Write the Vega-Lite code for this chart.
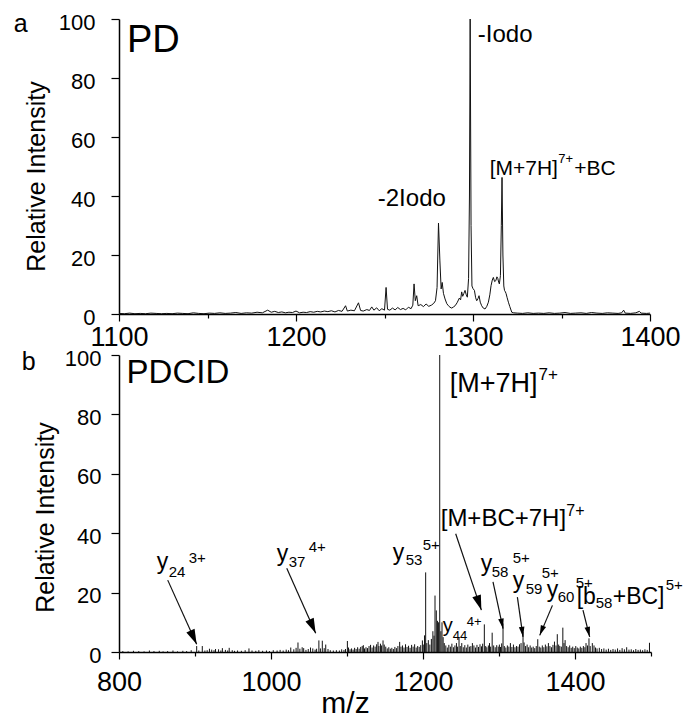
{
  "$schema": "https://vega.github.io/schema/vega-lite/v6.json",
  "padding": {"left": 13, "top": 11, "right": 5, "bottom": 0},
  "spacing": -3,
  "config": {
    "view": {"stroke": null},
    "axis": {"domainColor": "#000", "domainWidth": 1.5, "tickColor": "#000", "tickWidth": 1.2, "labelColor": "#000", "titleColor": "#000", "grid": false, "labelFont": "Liberation Sans", "titleFont": "Liberation Sans", "titleFontWeight": "normal", "labelFlush": false, "labelOverlap": false},
    "text": {"font": "Liberation Sans", "color": "#000"}
  },
  "datasets": {
    "pd": [
      {"mz":1100,"i":0.2},{"mz":1103,"i":0.1},{"mz":1106,"i":0.3},{"mz":1109,"i":0.1},{"mz":1112,"i":0.2},{"mz":1115,"i":0.1},{"mz":1118,"i":0.3},{"mz":1121,"i":0.2},{"mz":1124,"i":0.1},{"mz":1127,"i":0.2},{"mz":1130,"i":0.1},{"mz":1133,"i":0.3},{"mz":1136,"i":0.2},{"mz":1139,"i":0.1},{"mz":1142,"i":0.4},{"mz":1145,"i":0.2},{"mz":1148,"i":0.1},{"mz":1151,"i":0.3},{"mz":1154,"i":0.2},{"mz":1157,"i":0.4},{"mz":1160,"i":0.2},{"mz":1163,"i":0.3},{"mz":1166,"i":0.5},{"mz":1169,"i":0.2},{"mz":1172,"i":0.4},{"mz":1175,"i":0.3},{"mz":1178,"i":0.6},{"mz":1181,"i":0.4},{"mz":1184,"i":1.3},{"mz":1186,"i":0.6},{"mz":1188,"i":0.9},{"mz":1190,"i":0.5},{"mz":1192,"i":0.7},{"mz":1194,"i":0.4},{"mz":1196,"i":0.6},{"mz":1198,"i":0.5},{"mz":1200,"i":1.0},{"mz":1202,"i":0.4},{"mz":1204,"i":0.6},{"mz":1206,"i":0.5},{"mz":1208,"i":0.8},{"mz":1210,"i":0.6},{"mz":1212,"i":0.9},{"mz":1214,"i":0.7},{"mz":1216,"i":1.0},{"mz":1218,"i":0.8},{"mz":1220,"i":1.1},{"mz":1222,"i":0.7},{"mz":1224,"i":1.2},{"mz":1226,"i":0.9},{"mz":1228,"i":2.8},{"mz":1229,"i":1.0},{"mz":1231,"i":1.3},{"mz":1233,"i":1.1},{"mz":1235.3,"i":3.8},{"mz":1236.5,"i":1.2},{"mz":1238,"i":1.0},{"mz":1240,"i":1.5},{"mz":1241.5,"i":1.2},{"mz":1242.8,"i":2.4},{"mz":1244,"i":1.3},{"mz":1245.6,"i":2.1},{"mz":1247,"i":1.1},{"mz":1248.5,"i":1.8},{"mz":1250,"i":1.3},{"mz":1250.9,"i":9.0},{"mz":1251.7,"i":1.6},{"mz":1253,"i":1.3},{"mz":1254.5,"i":2.0},{"mz":1256,"i":1.4},{"mz":1257.5,"i":2.2},{"mz":1259,"i":1.5},{"mz":1260.5,"i":1.9},{"mz":1262,"i":1.4},{"mz":1263.5,"i":2.3},{"mz":1265,"i":1.8},{"mz":1266,"i":3.0},{"mz":1266.7,"i":10.2},{"mz":1267.4,"i":4.5},{"mz":1268.2,"i":6.2},{"mz":1269,"i":2.8},{"mz":1270.5,"i":3.2},{"mz":1272,"i":2.5},{"mz":1273.5,"i":3.4},{"mz":1275,"i":2.6},{"mz":1276.5,"i":3.0},{"mz":1277.8,"i":3.6},{"mz":1278.8,"i":4.5},{"mz":1279.7,"i":9.0},{"mz":1280.5,"i":30.8},{"mz":1281.3,"i":18.0},{"mz":1282,"i":8.5},{"mz":1282.6,"i":10.7},{"mz":1283.3,"i":7.0},{"mz":1284.2,"i":5.1},{"mz":1285.2,"i":3.5},{"mz":1286.1,"i":2.8},{"mz":1287,"i":2.3},{"mz":1288,"i":2.0},{"mz":1289,"i":2.4},{"mz":1289.9,"i":2.8},{"mz":1291,"i":3.8},{"mz":1292.3,"i":5.4},{"mz":1293,"i":4.8},{"mz":1293.6,"i":7.5},{"mz":1294.2,"i":6.0},{"mz":1294.8,"i":6.9},{"mz":1295.5,"i":8.0},{"mz":1296.2,"i":6.5},{"mz":1296.8,"i":5.7},{"mz":1297.5,"i":12},{"mz":1298,"i":40},{"mz":1298.4,"i":100},{"mz":1298.9,"i":30},{"mz":1299.4,"i":9.5},{"mz":1300,"i":8.6},{"mz":1300.8,"i":8.0},{"mz":1301.5,"i":5.5},{"mz":1302.1,"i":4.5},{"mz":1302.8,"i":5.2},{"mz":1303.4,"i":6.2},{"mz":1304.1,"i":4.0},{"mz":1304.9,"i":2.8},{"mz":1305.8,"i":2.0},{"mz":1306.8,"i":1.7},{"mz":1307.8,"i":2.6},{"mz":1308.7,"i":4.0},{"mz":1309.5,"i":6.5},{"mz":1310.2,"i":9.6},{"mz":1310.9,"i":11.5},{"mz":1311.5,"i":12.4},{"mz":1312.2,"i":11.0},{"mz":1312.9,"i":11.3},{"mz":1313.5,"i":12.6},{"mz":1314,"i":12.1},{"mz":1314.5,"i":10.8},{"mz":1314.9,"i":10.2},{"mz":1315.5,"i":13},{"mz":1316,"i":30},{"mz":1316.4,"i":46.3},{"mz":1316.9,"i":20},{"mz":1317.4,"i":9.5},{"mz":1317.8,"i":8.0},{"mz":1318.3,"i":7.5},{"mz":1318.7,"i":6.9},{"mz":1319.3,"i":5.5},{"mz":1320,"i":4.0},{"mz":1320.8,"i":2.5},{"mz":1321.9,"i":0.6},{"mz":1323,"i":0.4},{"mz":1325,"i":0.3},{"mz":1328,"i":0.2},{"mz":1331,"i":0.4},{"mz":1334,"i":0.2},{"mz":1337,"i":0.3},{"mz":1340,"i":0.2},{"mz":1343,"i":0.4},{"mz":1346,"i":0.2},{"mz":1349,"i":0.3},{"mz":1352,"i":0.5},{"mz":1355,"i":0.2},{"mz":1358,"i":0.3},{"mz":1361,"i":0.4},{"mz":1364,"i":0.2},{"mz":1367,"i":0.5},{"mz":1370,"i":0.3},{"mz":1373,"i":0.2},{"mz":1376,"i":0.4},{"mz":1379,"i":0.3},{"mz":1382,"i":0.2},{"mz":1384,"i":0.4},{"mz":1385.1,"i":1.3},{"mz":1386,"i":0.3},{"mz":1389,"i":0.2},{"mz":1392,"i":0.4},{"mz":1394,"i":0.9},{"mz":1395,"i":0.3},{"mz":1398,"i":0.2},{"mz":1400,"i":0.3}
    ],
    "pdLabels": [
      {"t":"a","x":1040.5,"y":95.6,"role":"panel"},
      {"t":"PD","x":1104.5,"y":88.7,"role":"title"},
      {"t":"-Iodo","x":1302.7,"y":92.3,"role":"label"},
      {"t":"-2Iodo","x":1246.2,"y":36.6,"role":"label"},
      {"t":"[M+7H]","x":1309.4,"y":47.2,"role":"lab2"},
      {"t":"7+","x":1348.2,"y":51.2,"role":"lab2sup"},
      {"t":"+BC","x":1357.2,"y":47.2,"role":"lab2"}
    ],
    "cid": [
      {"mz":805,"i":0.3},{"mz":812,"i":0.2},{"mz":819,"i":0.4},{"mz":826,"i":0.3},{"mz":833,"i":0.2},{"mz":840,"i":0.5},{"mz":846,"i":0.3},{"mz":853,"i":0.4},{"mz":858,"i":0.2},{"mz":864,"i":0.3},{"mz":871,"i":0.5},{"mz":877,"i":0.2},{"mz":884,"i":0.4},{"mz":889,"i":0.3},{"mz":895,"i":0.6},{"mz":902.2,"i":2.0},{"mz":905,"i":0.5},{"mz":909.6,"i":2.0},{"mz":913,"i":0.5},{"mz":916,"i":0.6},{"mz":919,"i":1.1},{"mz":922,"i":0.8},{"mz":925,"i":0.6},{"mz":927,"i":1.0},{"mz":931,"i":0.9},{"mz":934,"i":0.5},{"mz":936,"i":1.3},{"mz":940,"i":0.7},{"mz":943,"i":0.5},{"mz":945,"i":1.4},{"mz":949,"i":0.6},{"mz":952,"i":0.4},{"mz":956,"i":0.5},{"mz":961,"i":0.4},{"mz":966,"i":0.6},{"mz":971,"i":1.2},{"mz":975,"i":0.5},{"mz":980,"i":0.4},{"mz":984,"i":0.6},{"mz":989,"i":0.4},{"mz":994,"i":0.5},{"mz":998,"i":0.3},{"mz":1003,"i":0.6},{"mz":1008,"i":0.5},{"mz":1012,"i":0.7},{"mz":1016,"i":0.5},{"mz":1020,"i":0.8},{"mz":1023,"i":0.6},{"mz":1026,"i":1.5},{"mz":1030,"i":0.9},{"mz":1033,"i":1.4},{"mz":1035.5,"i":3.2},{"mz":1038,"i":1.1},{"mz":1041,"i":1.6},{"mz":1043,"i":1.3},{"mz":1046,"i":0.7},{"mz":1049,"i":1.0},{"mz":1052,"i":1.5},{"mz":1055,"i":1.2},{"mz":1058,"i":0.8},{"mz":1060,"i":1.1},{"mz":1063,"i":3.9},{"mz":1065,"i":1.2},{"mz":1067.5,"i":3.8},{"mz":1070,"i":1.3},{"mz":1072,"i":2.5},{"mz":1075,"i":1.0},{"mz":1078,"i":0.6},{"mz":1082,"i":0.5},{"mz":1086,"i":0.6},{"mz":1090,"i":0.5},{"mz":1093,"i":0.9},{"mz":1096,"i":0.7},{"mz":1098,"i":1.0},{"mz":1100.5,"i":3.7},{"mz":1102,"i":1.5},{"mz":1104,"i":0.9},{"mz":1106,"i":1.2},{"mz":1108,"i":0.8},{"mz":1110,"i":1.4},{"mz":1112,"i":1.0},{"mz":1114,"i":1.6},{"mz":1116,"i":1.1},{"mz":1118,"i":1.7},{"mz":1120,"i":2.0},{"mz":1121.5,"i":2.3},{"mz":1123,"i":1.2},{"mz":1125,"i":1.6},{"mz":1127,"i":1.3},{"mz":1129,"i":2.0},{"mz":1131,"i":2.4},{"mz":1133,"i":1.5},{"mz":1135,"i":2.2},{"mz":1137,"i":1.8},{"mz":1139,"i":2.6},{"mz":1140.8,"i":3.4},{"mz":1142,"i":2.0},{"mz":1144,"i":2.8},{"mz":1145.5,"i":2.2},{"mz":1147.4,"i":3.9},{"mz":1149,"i":2.5},{"mz":1151,"i":1.8},{"mz":1153,"i":1.2},{"mz":1155,"i":1.6},{"mz":1157,"i":1.1},{"mz":1159,"i":1.4},{"mz":1161,"i":1.0},{"mz":1163,"i":1.7},{"mz":1165,"i":1.3},{"mz":1167,"i":2.0},{"mz":1169.3,"i":3.4},{"mz":1171,"i":1.8},{"mz":1173,"i":2.2},{"mz":1175,"i":1.5},{"mz":1177,"i":2.6},{"mz":1179,"i":1.7},{"mz":1181,"i":2.1},{"mz":1183,"i":1.4},{"mz":1185,"i":2.4},{"mz":1187,"i":1.8},{"mz":1189,"i":2.6},{"mz":1191,"i":1.5},{"mz":1193,"i":2.0},{"mz":1195,"i":1.7},{"mz":1197,"i":2.3},{"mz":1199.2,"i":3.9},{"mz":1201,"i":2.5},{"mz":1202,"i":5.6},{"mz":1203.5,"i":26.8},{"mz":1205,"i":3.0},{"mz":1207,"i":4.0},{"mz":1209,"i":2.5},{"mz":1211,"i":4.4},{"mz":1213,"i":7.0},{"mz":1214.5,"i":5.5},{"mz":1215.8,"i":19.0},{"mz":1217.5,"i":14.0},{"mz":1219,"i":10.5},{"mz":1220.5,"i":10.0},{"mz":1222,"i":100},{"mz":1223.5,"i":7.0},{"mz":1225,"i":10.0},{"mz":1226.5,"i":5.0},{"mz":1228,"i":3.0},{"mz":1230,"i":2.2},{"mz":1232,"i":1.5},{"mz":1234,"i":2.4},{"mz":1236,"i":1.8},{"mz":1238,"i":2.8},{"mz":1240,"i":1.6},{"mz":1242,"i":2.2},{"mz":1244,"i":3.0},{"mz":1245.5,"i":1.8},{"mz":1247.4,"i":5.0},{"mz":1249,"i":2.0},{"mz":1251,"i":3.0},{"mz":1253,"i":1.6},{"mz":1255,"i":2.3},{"mz":1257,"i":1.5},{"mz":1259,"i":2.5},{"mz":1261,"i":1.8},{"mz":1263,"i":2.0},{"mz":1265,"i":3.0},{"mz":1267,"i":2.2},{"mz":1269,"i":1.5},{"mz":1271,"i":2.4},{"mz":1273,"i":1.7},{"mz":1275,"i":2.6},{"mz":1277,"i":1.9},{"mz":1278.5,"i":2.8},{"mz":1280.7,"i":9.3},{"mz":1282.5,"i":2.0},{"mz":1284,"i":1.6},{"mz":1286,"i":2.2},{"mz":1287.5,"i":3.0},{"mz":1289,"i":1.8},{"mz":1291,"i":6.5},{"mz":1293,"i":2.2},{"mz":1295,"i":1.6},{"mz":1297,"i":2.3},{"mz":1299,"i":1.8},{"mz":1300.5,"i":2.5},{"mz":1302,"i":1.7},{"mz":1303.5,"i":2.9},{"mz":1305.3,"i":9.6},{"mz":1307,"i":2.0},{"mz":1309,"i":1.5},{"mz":1311,"i":2.2},{"mz":1313,"i":1.8},{"mz":1315,"i":3.0},{"mz":1317,"i":1.7},{"mz":1319,"i":2.5},{"mz":1321,"i":1.6},{"mz":1323,"i":2.0},{"mz":1325,"i":1.8},{"mz":1327,"i":2.6},{"mz":1329,"i":3.0},{"mz":1331.6,"i":6.8},{"mz":1333,"i":3.2},{"mz":1335,"i":2.0},{"mz":1337,"i":2.5},{"mz":1339,"i":1.6},{"mz":1341,"i":2.2},{"mz":1343,"i":1.5},{"mz":1345,"i":1.8},{"mz":1347,"i":1.3},{"mz":1349,"i":2.0},{"mz":1351,"i":4.3},{"mz":1353,"i":1.8},{"mz":1355,"i":1.5},{"mz":1357,"i":2.2},{"mz":1359,"i":1.6},{"mz":1361,"i":2.5},{"mz":1363,"i":1.9},{"mz":1365,"i":3.0},{"mz":1367,"i":2.0},{"mz":1369,"i":1.6},{"mz":1371,"i":2.4},{"mz":1373,"i":3.5},{"mz":1375,"i":2.2},{"mz":1376.7,"i":6.0},{"mz":1378.5,"i":2.5},{"mz":1380,"i":2.0},{"mz":1382,"i":1.8},{"mz":1384,"i":8.2},{"mz":1385.5,"i":3.0},{"mz":1387,"i":4.0},{"mz":1389,"i":2.0},{"mz":1391,"i":1.6},{"mz":1393,"i":2.2},{"mz":1395,"i":1.4},{"mz":1397,"i":1.8},{"mz":1399,"i":1.3},{"mz":1401,"i":2.0},{"mz":1403,"i":1.5},{"mz":1405,"i":1.2},{"mz":1407,"i":1.8},{"mz":1409,"i":1.4},{"mz":1411,"i":2.0},{"mz":1413,"i":1.6},{"mz":1414.5,"i":3.0},{"mz":1416.5,"i":2.2},{"mz":1418.4,"i":4.6},{"mz":1420,"i":2.0},{"mz":1422.8,"i":3.0},{"mz":1425,"i":2.2},{"mz":1427,"i":1.5},{"mz":1429,"i":1.2},{"mz":1432,"i":1.4},{"mz":1435,"i":1.0},{"mz":1438,"i":1.2},{"mz":1441,"i":0.8},{"mz":1444,"i":1.1},{"mz":1447,"i":0.7},{"mz":1450,"i":1.0},{"mz":1453,"i":0.8},{"mz":1456,"i":1.2},{"mz":1459,"i":0.7},{"mz":1462,"i":1.3},{"mz":1465,"i":0.9},{"mz":1468,"i":1.6},{"mz":1471,"i":0.8},{"mz":1474,"i":0.9},{"mz":1477,"i":0.6},{"mz":1480,"i":1.0},{"mz":1483,"i":0.7},{"mz":1486,"i":0.8},{"mz":1489,"i":0.6},{"mz":1492,"i":0.9},{"mz":1495,"i":0.7},{"mz":1498,"i":3.1}
    ],
    "cidLabels": [
      {"t":"b","x":672,"y":95.0,"role":"panel"},
      {"t":"PDCID","x":810,"y":90.6,"role":"title2"},
      {"t":"[M+7H]","x":1235.1,"y":87.6,"role":"big"},
      {"t":"7+","x":1352.0,"y":91.6,"role":"bigsup"},
      {"t":"[M+BC+7H]","x":1223.3,"y":42.4,"role":"mid"},
      {"t":"7+","x":1388.5,"y":45.8,"role":"midsup"},
      {"t":"y","x":849.6,"y":27.9,"role":"ion"},
      {"t":"24","x":865.4,"y":25.2,"role":"ionsub"},
      {"t":"3+","x":891.7,"y":29.9,"role":"ionsup"},
      {"t":"y","x":1007.5,"y":30.6,"role":"ion"},
      {"t":"37","x":1023.3,"y":28.6,"role":"ionsub"},
      {"t":"4+","x":1049.6,"y":33.6,"role":"ionsup"},
      {"t":"y","x":1160.1,"y":30.9,"role":"ion"},
      {"t":"53","x":1177.2,"y":29.2,"role":"ionsub"},
      {"t":"5+","x":1199.6,"y":34.3,"role":"ionsup"},
      {"t":"y","x":1275.9,"y":27.2,"role":"ion"},
      {"t":"58","x":1290.4,"y":25.2,"role":"ionsub"},
      {"t":"5+","x":1318.0,"y":29.9,"role":"ionsup"},
      {"t":"y","x":1318.0,"y":21.5,"role":"ion"},
      {"t":"59","x":1335.1,"y":19.5,"role":"ionsub"},
      {"t":"5+","x":1356.2,"y":24.9,"role":"ionsup"},
      {"t":"y","x":1362.8,"y":18.4,"role":"ion"},
      {"t":"60","x":1377.2,"y":16.8,"role":"ionsub"},
      {"t":"5+","x":1400.9,"y":21.5,"role":"ionsup"},
      {"t":"[b","x":1402.2,"y":16.1,"role":"ion"},
      {"t":"58","x":1427.2,"y":14.7,"role":"ionsub"},
      {"t":"+BC]","x":1449.6,"y":16.1,"role":"ion"},
      {"t":"5+","x":1519.3,"y":20.8,"role":"ionsup"},
      {"t":"y","x":1225.9,"y":6.6,"role":"small"},
      {"t":"44","x":1239.1,"y":4.0,"role":"smallsub"},
      {"t":"4+","x":1257.5,"y":8.7,"role":"smallsup"}
    ],
    "arrows": [
      {"ion":"y24","tx":864.1,"ty":24.2,"hx":902.2,"hy":2.6},
      {"ion":"y37","tx":1020.7,"ty":28.2,"hx":1058.8,"hy":6.3},
      {"ion":"M+BC","tx":1243.0,"ty":39.8,"hx":1276.8,"hy":14.1},
      {"ion":"y58","tx":1292.1,"ty":23.6,"hx":1305.3,"hy":7.9},
      {"ion":"y59","tx":1324.2,"ty":18.5,"hx":1331.6,"hy":5.1},
      {"ion":"y60","tx":1370.3,"ty":15.7,"hx":1353.6,"hy":5.6},
      {"ion":"b58+BC","tx":1410.5,"ty":14.1,"hx":1419.3,"hy":5.1}
    ]
  },
  "vconcat": [
    {
      "width": 531,
      "height": 295,
      "layer": [
        {
          "data": {"name": "pd"},
          "mark": {"type": "line", "color": "#111", "strokeWidth": 1, "clip": true},
          "encoding": {
            "x": {"field": "mz", "type": "quantitative", "scale": {"domain": [1100, 1400], "nice": false, "zero": false},
              "axis": {"title": null, "values": [1100,1150,1200,1250,1300,1350,1400], "format": "d", "labelExpr": "datum.value % 100 === 0 ? datum.label : ''", "tickSize": {"condition": {"test": "datum.value % 100 === 0", "value": 7}, "value": 4}, "labelFontSize": 27, "labelPadding": 3}},
            "y": {"field": "i", "type": "quantitative", "scale": {"domain": [0, 100], "nice": false},
              "axis": {"title": "Relative Intensity", "titleFontSize": 25, "titleX": -75, "titleY": 157, "titleBaseline": "alphabetic", "values": [0,10,20,30,40,50,60,70,80,90,100], "labelExpr": "datum.value % 20 === 0 ? datum.label : ''", "tickSize": {"condition": {"test": "datum.value % 20 === 0", "value": 8}, "value": 5}, "labelFontSize": 22, "labelPadding": 16, "labelOffset": 3}}
          }
        },
        {
          "data": {"name": "pdLabels"},
          "mark": {"type": "text", "align": "left", "baseline": "alphabetic"},
          "encoding": {
            "x": {"field": "x", "type": "quantitative"},
            "y": {"field": "y", "type": "quantitative"},
            "text": {"field": "t"},
            "size": {"field": "role", "type": "nominal", "legend": null, "scale": {"type": "ordinal", "domain": ["panel","title","label","lab2","lab2sup","title2","big","bigsup","mid","midsup","ion","ionsub","ionsup","small","smallsub","smallsup"], "range": [25,38,24,21,13,33,27,17,24,16,23,15,15,20,13,13]}}
          }
        }
      ]
    },
    {
      "width": 532,
      "height": 297,
      "layer": [
        {
          "data": {"name": "cid"},
          "mark": {"type": "rule", "color": "#111", "strokeWidth": 1, "clip": true},
          "encoding": {
            "x": {"field": "mz", "type": "quantitative", "scale": {"domain": [800, 1500], "nice": false, "zero": false},
              "axis": {"title": "m/z", "titleFontSize": 30, "titleX": 226, "titleY": 60, "titleBaseline": "alphabetic", "values": [800,850,900,950,1000,1050,1100,1150,1200,1250,1300,1350,1400,1450,1500], "format": "d", "labelExpr": "datum.value % 200 === 0 ? datum.label : ''", "tickSize": {"condition": {"test": "datum.value % 200 === 0", "value": 7}, "value": 4}, "labelFontSize": 27, "labelPadding": 10}},
            "y": {"field": "i", "type": "quantitative", "scale": {"domain": [0, 100], "nice": false},
              "axis": {"title": "Relative Intensity", "titleFontSize": 25, "titleX": -66, "titleY": 162, "titleBaseline": "alphabetic", "values": [0,10,20,30,40,50,60,70,80,90,100], "labelExpr": "datum.value % 20 === 0 ? datum.label : ''", "tickSize": {"condition": {"test": "datum.value % 20 === 0", "value": 8}, "value": 5}, "labelFontSize": 22, "labelPadding": 10, "labelOffset": 3}},
            "y2": {"datum": 0}
          }
        },
        {
          "data": {"name": "arrows"},
          "mark": {"type": "rule", "color": "#111", "strokeWidth": 1.2},
          "encoding": {
            "x": {"field": "tx", "type": "quantitative"},
            "y": {"field": "ty", "type": "quantitative"},
            "x2": {"field": "hx"},
            "y2": {"field": "hy"}
          }
        },
        {
          "data": {"name": "arrows"},
          "transform": [{"filter": {"field": "ion", "oneOf": ["y24", "y37", "M+BC"]}}],
          "mark": {"type": "point", "shape": "M0,0L-0.3,-1L0.3,-1Z", "filled": true, "color": "#000", "opacity": 1, "size": 900, "strokeWidth": 0},
          "encoding": {
            "x": {"field": "hx", "type": "quantitative"},
            "y": {"field": "hy", "type": "quantitative"},
            "angle": {"field": "ion", "type": "nominal", "legend": null, "scale": {"type": "ordinal", "domain": ["y24","y37","M+BC","y58","y59","y60","b58+BC"], "range": [335.6,336.0,341.4,347.9,352.0,21.8,345.9]}}
          }
        },
        {
          "data": {"name": "arrows"},
          "transform": [{"filter": {"field": "ion", "oneOf": ["y58", "y59", "y60", "b58+BC"]}}],
          "mark": {"type": "point", "shape": "M0,0L-0.28,-1L0.28,-1Z", "filled": true, "color": "#000", "opacity": 1, "size": 400, "strokeWidth": 0},
          "encoding": {
            "x": {"field": "hx", "type": "quantitative"},
            "y": {"field": "hy", "type": "quantitative"},
            "angle": {"field": "ion", "type": "nominal", "legend": null, "scale": {"type": "ordinal", "domain": ["y24","y37","M+BC","y58","y59","y60","b58+BC"], "range": [335.6,336.0,341.4,347.9,352.0,21.8,345.9]}}
          }
        },
        {
          "data": {"name": "cidLabels"},
          "mark": {"type": "text", "align": "left", "baseline": "alphabetic"},
          "encoding": {
            "x": {"field": "x", "type": "quantitative"},
            "y": {"field": "y", "type": "quantitative"},
            "text": {"field": "t"},
            "size": {"field": "role", "type": "nominal", "legend": null, "scale": {"type": "ordinal", "domain": ["panel","title","label","lab2","lab2sup","title2","big","bigsup","mid","midsup","ion","ionsub","ionsup","small","smallsub","smallsup"], "range": [25,38,24,21,13,33,27,17,24,16,23,15,15,20,13,13]}}
          }
        }
      ]
    }
  ]
}
